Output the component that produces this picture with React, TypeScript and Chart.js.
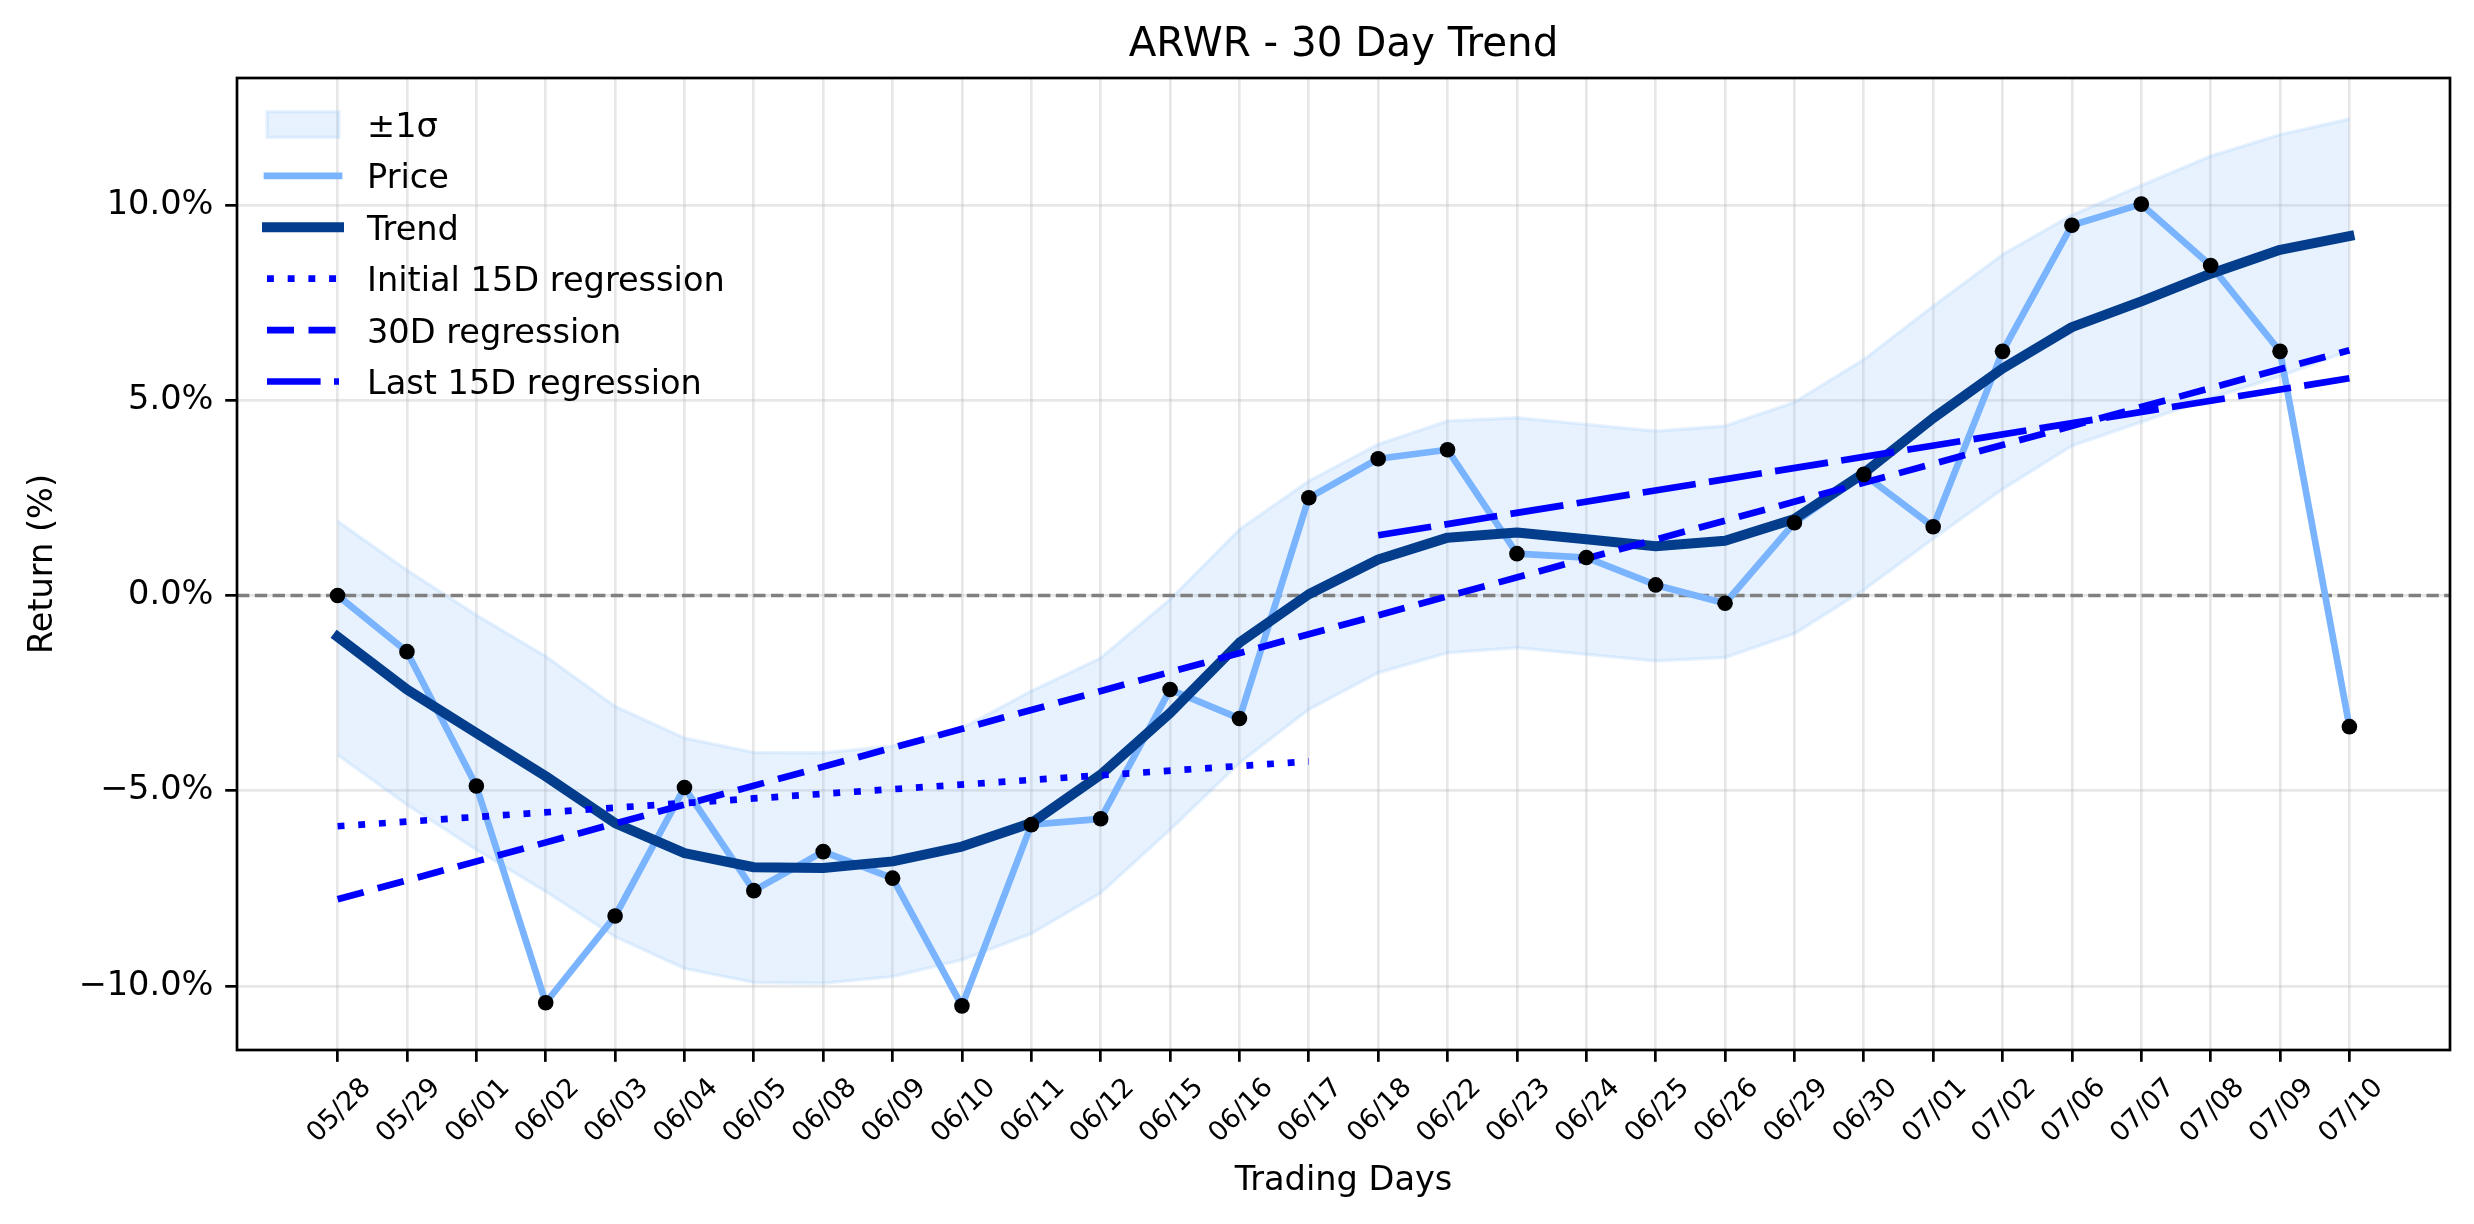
import React, { useEffect, useRef } from 'react';
import { Chart, registerables } from 'chart.js';

Chart.register(...registerables);

// ---------- data ----------
const categories = ['05/28', '05/29', '06/01', '06/02', '06/03', '06/04', '06/05', '06/08', '06/09', '06/10',
  '06/11', '06/12', '06/15', '06/16', '06/17', '06/18', '06/22', '06/23', '06/24', '06/25',
  '06/26', '06/29', '06/30', '07/01', '07/02', '07/06', '07/07', '07/08', '07/09', '07/10'];

const priceReturns = [0.0, -1.44, -4.88, -10.43, -8.21, -4.92, -7.56, -6.56, -7.24, -10.51,
  -5.87, -5.72, -2.41, -3.15, 2.50, 3.50, 3.73, 1.07, 0.97, 0.27,
  -0.20, 1.86, 3.10, 1.76, 6.25, 9.48, 10.02, 8.45, 6.25, -3.36];

const trendReturns = [-1.06, -2.41, -3.52, -4.63, -5.83, -6.60, -6.96, -6.98, -6.81, -6.43,
  -5.83, -4.59, -3.01, -1.21, 0.03, 0.92, 1.48, 1.61, 1.44, 1.26,
  1.40, 1.96, 3.13, 4.54, 5.81, 6.87, 7.53, 8.24, 8.85, 9.20];

const bandUpper = [1.90, 0.65, -0.50, -1.56, -2.84, -3.65, -4.02, -4.03, -3.86, -3.40,
  -2.45, -1.60, -0.10, 1.69, 2.93, 3.87, 4.47, 4.55, 4.38, 4.21,
  4.34, 4.95, 6.04, 7.41, 8.73, 9.74, 10.50, 11.25, 11.80, 12.20];

const bandLower = [-4.08, -5.36, -6.51, -7.58, -8.74, -9.55, -9.91, -9.93, -9.76, -9.33,
  -8.66, -7.62, -6.00, -4.29, -2.92, -1.98, -1.47, -1.34, -1.51, -1.68,
  -1.59, -0.98, 0.14, 1.45, 2.72, 3.83, 4.44, 5.05, 5.61, 6.27];

const initialRegX = [0, 14];
const initialRegY = [-5.91, -4.25];
const fullRegX = [0, 29];
const fullRegY = [-7.78, 6.28];
const lastRegX = [15, 29];
const lastRegY = [1.54, 5.56];

const yTickValues = [-10, -5, 0, 5, 10];
const yTickLabels = ['\u221210.0%', '\u22125.0%', '0.0%', '5.0%', '10.0%'];

const legendLabels = ['\u00b11\u03c3', 'Price', 'Trend', 'Initial 15D regression', '30D regression', 'Last 15D regression'];
const titleText = 'ARWR - 30 Day Trend';
const xAxisTitle = 'Trading Days';
const yAxisTitle = 'Return (%)';

// ---------- styles ----------
const FONT = '"DejaVu Sans", sans-serif';
const W = 2474;
const H = 1224;
const xMargin = (categories.length - 1) * 0.05;
const xMin = -xMargin;
const xMax = categories.length - 1 + xMargin;
const yMin = -11.64;
const yMax = 13.25;

const bandFill = 'rgba(133,190,250,0.2)';
const bandEdge = 'rgba(133,190,250,0.2)';
const priceColor = '#7ab4ff';
const trendColor = '#033d8c';
const regColor = '#0000ff';
const gridColor = 'rgba(176,176,176,0.3)';

const priceWidth = 6.7;
const trendWidth = 10;
const regWidth = 6.7;
const pointRadius = 7.8;
const dotDash = [6.9, 13.8];
const dashDash = [27, 14.5];
const longDash = [53.6, 13.4];
const zeroDash = [12.4, 5.4];

const toPts = (arr: number[]) => arr.map((y, i) => ({ x: i, y }));
const toPairs = (xs: number[], ys: number[]) => xs.map((x, i) => ({ x, y: ys[i] }));

const decorPlugin = {
  id: 'mplDecor',
  afterDatasetsDraw(chart: any) {
    const { ctx, chartArea: ca } = chart;
    ctx.save();
    // axes frame
    ctx.setLineDash([]);
    ctx.strokeStyle = '#000';
    ctx.lineWidth = 2.7;
    ctx.strokeRect(ca.left, ca.top, ca.right - ca.left, ca.bottom - ca.top);

    // legend
    const x0 = 267;
    const x1 = 339;
    const rowY0 = 124.5;
    const rowStep = 51.4;
    const textX = 367;
    ctx.font = `33.6px ${FONT}`;
    ctx.textAlign = 'left';
    ctx.textBaseline = 'alphabetic';
    legendLabels.forEach((label, i) => {
      const cy = rowY0 + i * rowStep;
      ctx.save();
      if (i === 0) {
        ctx.fillStyle = bandFill;
        ctx.fillRect(x0, cy - 12.8, x1 - x0, 25.6);
        ctx.strokeStyle = bandEdge;
        ctx.lineWidth = 3.4;
        ctx.strokeRect(x0, cy - 12.8, x1 - x0, 25.6);
      } else {
        let color = regColor;
        let width = regWidth;
        let dash: number[] = [];
        let cap: CanvasLineCap = 'butt';
        if (i === 1) { color = priceColor; width = priceWidth; cap = 'square'; }
        if (i === 2) { color = trendColor; width = trendWidth; cap = 'square'; }
        if (i === 3) dash = dotDash;
        if (i === 4) dash = dashDash;
        if (i === 5) dash = longDash;
        ctx.strokeStyle = color;
        ctx.lineWidth = width;
        ctx.lineCap = cap;
        ctx.setLineDash(dash);
        ctx.beginPath();
        ctx.moveTo(x0, cy);
        ctx.lineTo(x1, cy);
        ctx.stroke();
      }
      ctx.restore();
      ctx.fillStyle = '#000';
      ctx.fillText(label, textX, cy + 12.5);
    });
    ctx.restore();
  },
  afterDraw(chart: any) {
    const { ctx, chartArea: ca, scales } = chart;
    ctx.save();
    ctx.fillStyle = '#000';
    // title
    ctx.font = `40.4px ${FONT}`;
    ctx.textAlign = 'center';
    ctx.textBaseline = 'alphabetic';
    ctx.fillText(titleText, (ca.left + ca.right) / 2, 56);
    // x axis title
    ctx.font = `33.6px ${FONT}`;
    ctx.fillText(xAxisTitle, (ca.left + ca.right) / 2, 1190);
    // y axis title
    ctx.save();
    ctx.translate(52, (ca.top + ca.bottom) / 2);
    ctx.rotate(-Math.PI / 2);
    ctx.fillText(yAxisTitle, 0, 0);
    ctx.restore();
    // x tick labels rotated 45
    const fs = 26.9;
    ctx.font = `${fs}px ${FONT}`;
    categories.forEach((cat, i) => {
      const px = scales.x.getPixelForValue(i);
      ctx.save();
      ctx.translate(px, 1109);
      ctx.rotate(-Math.PI / 4);
      ctx.textAlign = 'center';
      ctx.fillText(cat, 0, fs * 0.729 / 2);
      ctx.restore();
    });
    ctx.restore();
  },
};

export default function App() {
  const canvasRef = useRef<HTMLCanvasElement | null>(null);

  useEffect(() => {
    const canvas = canvasRef.current;
    if (!canvas) return;
    Chart.defaults.font.family = FONT;
    const gridOpts = {
      color: gridColor,
      lineWidth: 2.7,
      drawTicks: true,
      tickColor: '#000',
      tickWidth: 2.7,
      tickLength: 11.8,
    };
    const chart = new Chart(canvas, {
      type: 'line',
      data: {
        datasets: [
          {
            label: 'points', data: toPts(priceReturns), showLine: false,
            pointRadius: pointRadius, pointBackgroundColor: '#000', pointBorderWidth: 0, order: 0,
          },
          {
            label: 'Last 15D regression', data: toPairs(lastRegX, lastRegY), borderColor: regColor,
            borderWidth: regWidth, borderDash: longDash, pointRadius: 0, fill: false, order: 1,
          },
          {
            label: '30D regression', data: toPairs(fullRegX, fullRegY), borderColor: regColor,
            borderWidth: regWidth, borderDash: dashDash, pointRadius: 0, fill: false, order: 2,
          },
          {
            label: 'Initial 15D regression', data: toPairs(initialRegX, initialRegY), borderColor: regColor,
            borderWidth: regWidth, borderDash: dotDash, pointRadius: 0, fill: false, order: 3,
          },
          {
            label: 'Trend', data: toPts(trendReturns), borderColor: trendColor, borderWidth: trendWidth,
            borderCapStyle: 'square', pointRadius: 0, fill: false, order: 4,
          },
          {
            label: 'Price', data: toPts(priceReturns), borderColor: priceColor, borderWidth: priceWidth,
            borderCapStyle: 'square', pointRadius: 0, fill: false, order: 5,
          },
          {
            label: 'zero', data: [{ x: xMin, y: 0 }, { x: xMax, y: 0 }], borderColor: '#808080',
            borderWidth: 3.4, borderDash: zeroDash, pointRadius: 0, fill: false, order: 6,
          },
          {
            label: 'upper', data: toPts(bandUpper), borderColor: bandEdge, borderWidth: 3.4,
            backgroundColor: bandFill, pointRadius: 0, fill: '+1', order: 7,
          },
          {
            label: 'lower', data: toPts(bandLower), borderColor: bandEdge, borderWidth: 3.4,
            pointRadius: 0, fill: false, order: 8,
          },
        ],
      },
      options: {
        animation: false,
        responsive: false,
        devicePixelRatio: 1,
        events: [],
        layout: { padding: { left: 0, right: W - 2450, top: 78, bottom: 0 } },
        elements: { line: { tension: 0, borderJoinStyle: 'round' } },
        plugins: {
          legend: { display: false },
          title: { display: false },
          tooltip: { enabled: false },
        },
        scales: {
          x: {
            type: 'linear',
            min: xMin,
            max: xMax,
            afterBuildTicks: (s: any) => { s.ticks = categories.map((_, i) => ({ value: i })); },
            afterFit: (s: any) => { s.height = H - 1050; },
            grid: gridOpts,
            border: { display: false },
            ticks: { display: false, autoSkip: false },
          },
          y: {
            type: 'linear',
            min: yMin,
            max: yMax,
            afterBuildTicks: (s: any) => { s.ticks = yTickValues.map((v) => ({ value: v })); },
            afterFit: (s: any) => { s.width = 237; },
            grid: gridOpts,
            border: { display: false },
            ticks: {
              autoSkip: false,
              color: '#000',
              padding: 11.8,
              font: { size: 33.6, family: FONT },
              callback: (v: any) => {
                const k = yTickValues.indexOf(Number(v));
                return k >= 0 ? yTickLabels[k] : '';
              },
            },
          },
        },
      },
      plugins: [decorPlugin],
    } as any);
    return () => chart.destroy();
  }, []);

  return (
    <div style={{ position: 'absolute', left: 0, top: 0, width: W, height: H, background: '#fff' }}>
      <canvas ref={canvasRef} width={W} height={H} style={{ display: 'block', width: W, height: H }} />
    </div>
  );
}
